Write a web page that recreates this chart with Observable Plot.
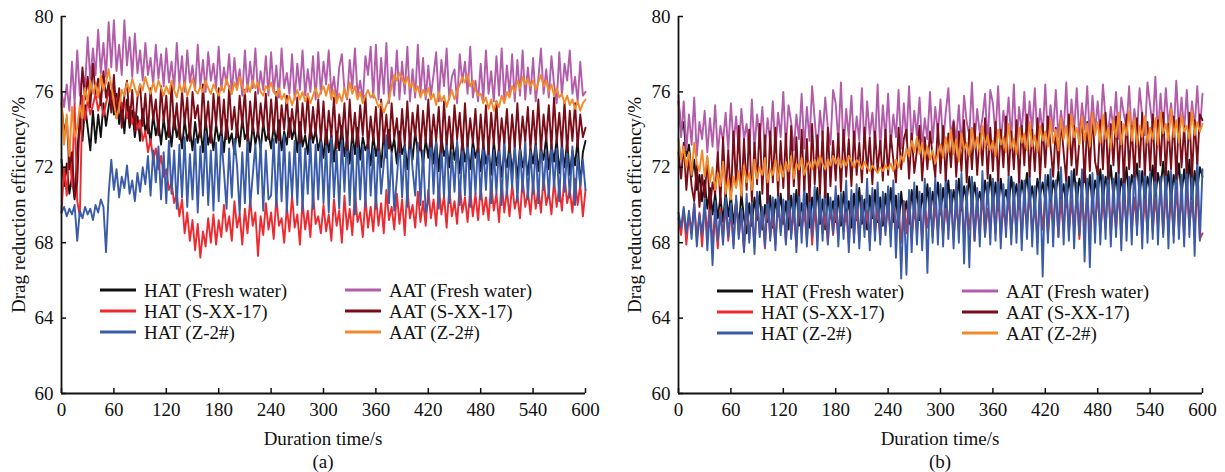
<!DOCTYPE html>
<html>
<head>
<meta charset="utf-8">
<script src="https://cdn.jsdelivr.net/npm/d3@7"></script>
<script src="https://cdn.jsdelivr.net/npm/@observablehq/plot@0.6"></script>
<style>
  body { margin: 0; background: #fff; }
  #wrap { position: relative; width: 1225px; height: 472px; font-family: "Liberation Serif", "Times New Roman", serif; color: #111; overflow: hidden; }
  .panel { position: absolute; top: 0; }
  .t { position: absolute; white-space: nowrap; font-size: 19px; line-height: 1; transform: translate(-50%, -50%); }
  .ty { position: absolute; white-space: nowrap; font-size: 19px; line-height: 1; transform: translate(-50%, -50%) rotate(-90deg); }
  .lg { position: absolute; white-space: nowrap; font-size: 19px; line-height: 1; display: flex; align-items: center; transform: translateY(-50%); }
  .sw { display: inline-block; width: 36px; height: 3px; margin-right: 8px; }
</style>
</head>
<body>
<div id="wrap"></div>
<script>
// ---------------- data ----------------
const duration = 600; // s
const xTicks = [0, 60, 120, 180, 240, 300, 360, 420, 480, 540, 600];
const yTicks = [60, 64, 68, 72, 76, 80];
const seriesNames = ["HAT (Fresh water)", "HAT (S-XX-17)", "HAT (Z-2#)", "AAT (Fresh water)", "AAT (S-XX-17)", "AAT (Z-2#)"];
const seriesColors = ["#111111", "#ec2a30", "#3a5ca8", "#b35ca9", "#7a0c18", "#f28a2c"];
const panelLabels = ["(a)", "(b)"];
const xTitle = "Duration time/s";
const yTitle = "Drag reduction efficiency/%";

// Panel (a): values sampled every 3 s, t = 0 ... 600
const a_HAT_fresh = [
72.4,71.0,72.2,70.6,71.5,70.3,72.8,74.6,73.4,75.3,74.1,72.9,75.0,73.3,74.8,73.6,75.4,74.2,75.2,76.1,
74.8,75.9,74.3,75.4,73.8,75.6,74.1,75.0,73.6,74.7,73.4,75.1,73.9,74.5,73.3,74.8,73.7,74.4,73.2,74.6,
73.5,74.3,73.1,74.7,73.6,74.2,73.0,74.5,73.4,74.0,72.9,74.4,73.3,74.1,72.8,74.6,73.2,73.9,72.9,74.3,
73.4,74.0,72.8,74.5,73.3,73.8,72.7,74.2,73.1,74.6,73.5,73.9,72.8,74.3,73.2,74.0,72.9,74.4,73.4,73.8,
73.0,74.2,73.3,74.5,72.9,73.9,73.2,74.6,73.5,74.1,72.8,74.4,73.1,73.7,72.7,74.2,73.3,74.0,72.9,73.6,
72.5,74.0,72.8,73.7,72.3,73.9,72.9,74.2,72.6,73.5,72.2,73.8,72.7,74.1,72.4,73.6,72.9,73.3,72.1,73.7,
72.6,73.4,72.0,73.8,72.5,74.0,72.8,73.5,72.2,73.9,72.7,73.2,71.9,73.6,72.4,73.9,72.7,73.3,72.1,73.5,
72.5,73.8,72.2,73.4,71.8,73.6,72.6,73.1,72.0,73.7,72.4,73.2,71.7,73.5,72.3,73.0,71.9,73.4,72.5,73.1,
71.8,73.3,72.2,72.9,71.6,73.4,72.1,73.0,71.5,72.8,72.0,73.2,71.7,72.9,71.4,73.1,72.0,72.7,71.6,73.0,
72.2,73.3,71.8,73.0,72.4,73.6,71.9,73.2,72.3,73.5,71.7,73.1,72.0,73.4,71.6,72.9,72.1,73.5,71.0,72.8,
73.4];
const a_HAT_sxx = [
69.6,72.0,70.5,73.2,71.0,75.4,70.2,69.4,75.8,74.5,75.6,74.8,75.3,75.9,75.0,75.6,74.7,75.4,76.0,75.5,
76.2,75.4,76.0,75.1,75.6,74.6,75.2,74.3,74.9,74.0,74.5,73.4,73.9,72.8,73.5,72.4,73.0,71.9,72.6,71.5,
71.9,70.8,71.2,70.1,70.6,69.4,70.3,68.5,69.6,68.1,69.2,67.6,69.0,67.2,68.6,67.8,69.3,68.0,69.5,67.9,
69.2,68.3,70.0,68.6,69.4,68.1,70.2,68.8,69.5,67.9,69.8,68.5,70.3,68.9,69.6,67.3,69.4,68.4,70.1,68.7,
69.6,68.2,70.4,68.9,69.3,68.0,69.9,68.6,70.5,68.8,69.5,67.9,70.2,68.7,69.7,68.3,70.6,69.0,69.4,68.5,
70.0,68.6,69.5,68.1,70.3,68.9,69.7,68.0,70.5,68.7,69.8,68.4,70.7,69.1,69.6,68.3,70.4,68.8,69.9,68.6,
70.5,68.9,70.1,68.5,70.8,69.2,69.9,68.7,70.6,69.0,70.3,68.4,70.9,69.3,70.0,68.8,70.7,69.1,70.2,68.9,
70.8,69.3,70.3,68.9,71.0,69.5,70.5,68.8,70.9,69.4,70.2,69.0,71.1,69.6,70.4,69.1,70.8,69.4,70.6,69.2,
71.0,69.5,70.4,69.2,71.2,69.7,70.6,69.1,71.3,69.6,70.8,69.4,71.1,69.8,70.5,69.3,71.4,69.9,70.7,69.5,
71.2,69.8,70.9,69.6,71.5,70.0,70.7,69.5,71.3,69.9,71.0,69.7,71.6,70.1,70.8,69.6,71.4,70.0,71.1,69.4,
70.8];
const a_HAT_z2 = [
69.6,69.9,69.4,69.8,69.5,70.0,68.1,69.7,69.3,69.9,69.5,69.8,69.2,70.0,69.6,70.3,69.9,67.5,70.6,72.4,
70.8,71.9,70.4,71.5,70.9,72.1,70.6,71.3,70.2,71.7,70.7,72.0,71.1,72.6,70.5,72.9,71.2,73.1,70.3,72.8,
70.1,73.4,70.6,72.9,69.8,73.2,70.4,73.6,69.9,72.7,70.3,73.5,69.6,73.1,70.5,73.8,70.0,72.9,69.7,73.3,
70.2,73.6,71.8,69.8,73.0,70.4,73.5,72.1,69.5,72.8,70.1,73.7,69.9,71.6,73.2,70.6,73.4,69.7,72.9,70.3,
70.5,73.5,69.9,73.3,70.2,73.7,69.6,72.8,70.4,73.4,70.0,73.8,69.7,73.0,70.6,73.5,69.8,73.2,70.3,73.6,
70.1,73.3,69.6,73.7,70.4,72.9,69.8,73.5,70.7,73.8,70.0,73.1,69.5,73.6,70.3,73.2,69.9,73.9,70.5,73.0,
69.8,73.4,70.6,72.2,73.7,70.1,72.8,69.7,71.4,73.5,70.4,73.1,69.9,73.8,71.9,70.5,73.3,70.0,72.9,69.6,
70.2,73.9,70.6,73.4,69.8,73.1,70.4,73.7,70.1,72.8,70.7,73.5,70.0,73.2,70.5,73.8,69.9,73.0,70.6,73.4,
70.3,73.1,70.8,73.6,70.1,72.9,70.6,73.3,70.0,73.7,70.5,72.8,70.9,73.4,70.2,73.0,70.7,73.5,70.3,72.9,
70.6,73.2,70.1,73.5,70.8,72.8,70.4,73.3,70.9,73.0,70.2,73.6,70.7,72.9,70.4,73.1,70.0,72.6,71.0,72.4,
70.8];
const a_AAT_fresh = [
76.0,75.2,76.4,75.0,77.6,75.4,78.2,75.8,77.1,76.3,78.9,76.6,78.3,76.9,79.3,77.0,78.6,76.8,79.7,77.3,
79.8,77.1,78.5,76.9,79.8,77.4,78.9,76.8,79.1,77.0,78.2,76.6,78.6,76.9,77.8,76.4,78.5,76.7,78.0,76.3,
78.3,76.5,77.6,76.2,78.6,76.4,77.9,76.0,78.2,76.5,77.4,76.1,78.5,76.3,77.7,76.0,78.1,76.6,77.5,76.2,
78.4,76.1,77.3,76.4,78.0,75.9,77.8,76.3,77.2,75.8,78.2,76.0,77.6,76.2,78.3,75.9,77.1,76.1,77.9,75.8,
78.1,76.0,77.4,75.7,78.3,76.2,77.0,75.9,78.0,75.6,77.5,76.1,78.2,75.8,77.2,76.0,77.9,75.6,78.1,75.9,
77.6,76.4,78.2,75.9,76.8,75.5,77.3,78.0,76.1,75.6,77.7,76.2,78.3,75.8,76.6,75.5,77.9,76.9,78.4,75.7,
78.5,75.6,77.8,75.9,78.6,75.4,77.3,75.8,78.2,75.6,77.6,75.9,78.4,75.5,77.2,75.7,78.5,75.9,77.8,75.6,
77.4,75.8,76.9,78.1,75.5,77.7,76.3,78.3,75.6,76.8,77.2,75.4,78.0,76.5,77.6,75.9,78.4,75.7,76.6,75.5,
77.5,75.6,78.2,75.9,77.1,75.5,77.9,75.8,78.3,75.6,77.4,75.9,78.0,75.5,77.7,75.8,78.2,75.6,77.3,75.9,
77.8,75.5,76.7,78.3,75.9,77.2,75.7,77.9,76.4,75.4,78.1,75.8,77.5,76.6,78.2,75.9,76.8,75.5,77.6,75.8,
76.0];
const a_AAT_sxx = [
75.4,73.8,74.6,71.9,72.8,70.4,71.2,74.8,77.3,75.6,76.8,75.2,77.5,75.9,76.7,75.3,77.1,75.7,76.5,74.9,
76.9,74.6,76.2,74.1,75.8,76.6,74.3,76.1,73.9,75.7,76.4,74.2,75.9,73.8,76.2,74.5,75.6,73.7,76.3,74.4,
75.8,73.6,76.5,74.0,75.4,73.5,76.1,74.3,75.7,73.4,76.0,74.6,75.3,73.6,76.4,74.1,75.5,73.3,75.9,74.2,
76.2,73.8,75.6,73.5,76.3,74.0,75.2,73.6,75.8,74.2,76.1,73.4,75.5,73.9,76.0,73.7,75.4,74.1,75.9,73.5,
75.6,73.8,76.0,73.4,75.3,74.0,75.8,73.6,75.1,73.9,75.7,73.3,75.4,73.8,75.9,73.5,75.2,73.7,75.6,73.4,
75.5,73.2,75.0,73.6,75.7,73.0,74.8,73.5,75.4,72.9,75.6,73.4,74.9,73.1,75.3,73.7,75.8,73.0,74.7,73.4,
75.2,72.9,75.6,73.3,74.8,73.0,75.4,73.5,74.6,72.8,75.1,73.2,75.5,73.0,74.9,73.6,75.3,72.9,75.0,73.3,
75.6,73.1,74.8,73.4,75.2,72.8,75.5,73.2,74.7,73.0,75.3,73.5,74.9,72.9,75.4,73.1,74.6,73.3,75.1,72.8,
74.8,73.0,75.3,72.7,74.9,73.2,75.5,72.9,74.6,73.3,75.1,72.8,74.8,73.1,75.4,73.0,74.7,73.4,75.2,72.9,
75.0,73.2,75.6,72.9,74.8,73.4,75.3,73.0,75.7,73.3,74.9,73.1,75.5,72.8,75.0,73.4,75.4,73.1,74.8,73.6,
74.1];
const a_AAT_z2 = [
75.6,73.2,74.8,72.6,75.2,73.6,74.1,75.3,74.6,76.2,75.5,76.6,75.9,76.4,75.7,76.9,76.1,76.5,77.2,76.3,
75.4,74.6,75.2,76.1,75.8,76.5,76.0,76.7,76.2,75.8,76.4,76.1,76.8,76.3,75.9,76.5,76.0,76.6,76.2,75.8,
76.3,75.9,76.6,76.1,75.7,76.4,76.0,76.5,75.8,76.2,76.7,76.1,75.9,76.3,76.0,76.6,76.2,75.9,76.4,76.1,
75.8,76.3,76.0,76.7,76.2,75.9,76.5,76.1,76.8,76.3,75.9,76.4,76.0,76.6,76.2,76.5,76.0,75.8,76.3,76.1,
76.5,76.0,75.8,76.2,75.6,75.9,75.4,75.8,75.3,75.7,76.1,75.6,76.0,75.5,75.9,75.4,75.8,76.2,75.7,76.0,
76.3,75.8,76.4,75.6,76.1,75.4,75.9,75.5,76.2,75.7,76.5,75.9,76.3,75.6,76.0,75.4,75.8,76.1,75.7,75.9,
75.6,75.2,75.4,74.9,75.3,75.6,76.3,76.9,76.6,77.0,76.7,76.4,76.8,76.2,76.5,76.0,76.3,75.7,76.1,75.8,
76.2,75.6,75.9,75.3,76.0,75.5,75.8,75.2,75.7,76.1,75.6,76.0,76.4,76.8,76.5,76.9,76.3,76.6,76.1,75.8,
75.9,75.4,75.7,75.1,75.6,75.0,75.5,75.2,75.8,75.4,76.0,75.7,76.3,76.0,76.6,76.2,76.8,76.4,76.7,76.3,
76.6,76.1,76.5,76.9,76.3,76.6,76.0,76.4,75.8,76.2,75.7,75.9,75.4,75.8,75.3,75.6,75.1,75.5,75.0,75.4,
75.6];

// Panel (b)
const b_HAT_fresh = [
75.5,73.9,74.4,72.6,73.2,71.5,72.4,70.8,71.6,70.2,71.3,69.8,70.9,69.5,70.6,69.3,70.4,69.1,70.7,69.4,
70.5,69.0,70.2,68.8,70.6,69.3,68.5,70.1,68.9,70.4,69.2,70.7,68.7,70.0,69.1,70.5,68.8,70.3,69.4,70.6,
69.0,70.2,68.7,70.5,69.3,70.8,68.9,70.1,69.2,70.6,68.8,70.4,69.5,70.9,69.0,70.3,68.7,70.6,69.3,70.2,
69.1,70.5,68.9,70.7,69.4,70.2,68.8,70.6,69.2,70.9,69.0,70.3,68.7,70.5,69.3,70.8,69.1,70.4,68.9,70.6,
69.4,70.9,69.1,70.5,68.8,70.7,69.3,70.2,69.0,70.8,69.5,71.0,69.2,70.6,69.6,71.1,69.3,70.7,69.8,71.2,
69.5,70.9,69.8,71.3,69.6,70.8,70.0,71.4,69.7,71.0,70.2,71.5,69.9,71.2,70.1,70.7,69.8,71.3,70.3,71.6,
70.0,71.2,69.7,71.4,70.2,70.8,69.9,71.5,70.3,71.1,69.8,71.3,70.4,71.7,70.1,71.0,69.9,71.4,70.5,71.2,
70.2,71.6,70.0,71.3,70.6,71.8,70.3,71.1,69.9,71.5,70.4,71.9,70.1,71.4,70.7,72.0,70.3,71.6,70.0,71.3,
70.6,71.9,70.2,71.5,70.8,72.1,70.4,71.7,70.1,71.4,70.7,72.0,70.3,71.6,70.9,72.2,70.5,71.8,70.2,71.5,
70.8,72.1,70.4,71.7,70.9,72.3,70.6,71.8,70.2,71.6,70.9,72.2,70.5,71.9,70.7,72.4,70.3,71.8,70.8,72.0,
71.5];
const b_HAT_sxx = [
69.3,68.4,69.8,67.9,69.5,68.6,70.1,68.2,69.6,67.8,69.9,68.5,70.2,68.0,69.4,67.7,69.8,68.3,70.0,68.1,
69.7,67.9,70.3,68.4,69.5,67.6,70.0,68.2,69.8,67.8,70.4,68.5,69.6,67.7,70.1,68.3,69.4,67.9,70.2,68.6,
69.9,68.0,70.3,68.4,69.6,67.8,70.1,68.6,69.7,68.1,70.4,67.9,69.8,68.3,70.2,68.5,69.5,68.0,70.0,68.4,
69.8,68.2,70.3,68.6,69.6,67.9,70.5,68.4,69.9,68.1,70.2,68.7,69.7,68.0,70.4,68.5,69.8,68.2,70.1,68.6,
69.9,68.3,70.5,68.7,69.6,68.0,70.2,68.5,70.6,68.2,69.8,68.6,70.3,68.1,69.9,68.8,70.4,68.3,70.0,68.6,
70.2,68.4,69.8,68.8,70.5,68.2,70.0,68.6,70.7,68.3,69.9,68.7,70.4,68.1,70.1,68.5,70.6,68.4,69.8,68.9,
70.3,68.5,70.7,68.2,69.9,68.8,70.5,68.4,70.1,68.6,70.8,68.3,70.2,68.9,70.6,68.5,70.0,68.2,70.4,68.7,
70.5,68.4,70.1,68.9,70.7,68.3,70.3,68.6,70.9,68.5,70.2,68.8,70.6,68.2,70.4,68.7,70.8,68.4,70.1,68.9,
70.6,68.5,70.3,68.8,70.9,68.4,70.2,68.7,70.7,68.3,70.5,68.9,71.0,68.6,70.4,68.8,70.8,68.5,70.3,68.7,
70.9,68.6,70.4,68.9,71.1,68.5,70.6,68.8,70.3,68.4,71.0,68.7,70.5,68.3,70.8,68.9,70.2,68.6,70.9,68.2,
68.5];
const b_HAT_z2 = [
69.6,68.8,69.9,68.5,69.7,68.2,70.1,67.8,69.5,68.4,70.3,67.6,69.8,66.8,70.2,68.1,69.6,67.9,70.4,68.3,
70.1,67.7,70.5,68.2,69.8,67.5,70.6,68.0,70.2,67.4,70.7,68.3,69.9,67.8,71.0,68.1,70.4,67.6,70.8,68.4,
70.3,67.9,71.1,68.2,70.6,67.5,70.9,68.0,71.2,67.8,70.5,68.3,71.0,67.6,70.7,68.1,71.3,67.9,70.4,68.5,
71.0,67.8,70.6,68.2,71.3,67.5,70.8,68.0,71.1,67.7,70.5,68.3,71.4,67.6,70.9,68.1,71.2,67.9,70.7,68.4,
71.0,67.8,71.3,67.2,70.6,66.1,70.2,66.3,70.8,67.5,71.2,67.9,70.7,67.6,71.4,66.4,70.9,68.0,71.5,67.9,
71.1,67.8,71.6,68.2,70.8,67.7,71.3,68.0,71.7,66.9,71.0,66.7,71.5,68.1,70.9,67.8,71.8,68.3,71.2,67.9,
71.4,68.1,71.9,67.7,71.1,68.3,71.6,67.9,71.2,68.0,71.8,67.6,71.3,68.2,71.7,67.8,71.0,67.4,71.5,66.2,
71.6,68.0,71.9,67.8,71.3,68.3,72.0,67.9,71.5,68.1,71.8,67.7,71.2,68.4,71.9,67.0,71.4,66.7,71.7,68.0,
72.0,67.9,71.6,68.2,72.3,67.8,71.4,68.3,71.9,67.6,72.1,68.1,71.5,67.9,72.4,68.4,71.8,67.7,72.2,68.0,
71.7,68.2,72.3,67.9,71.5,68.3,72.1,67.7,71.8,68.0,72.5,68.2,71.6,67.8,72.4,68.3,72.0,67.3,72.6,68.1,
71.9];
const b_AAT_fresh = [
75.8,73.6,75.5,72.9,74.8,73.2,75.7,72.6,74.4,73.5,75.0,72.8,74.6,73.1,75.3,72.7,74.2,73.4,74.9,72.9,
75.4,73.2,74.7,72.8,75.1,73.5,74.3,72.7,75.6,73.0,74.8,73.4,75.2,72.9,74.6,73.3,75.5,72.8,74.9,73.6,
76.0,73.1,75.3,74.4,72.9,74.8,73.5,75.9,73.0,75.2,73.4,76.3,74.5,72.8,75.0,73.6,75.7,74.1,73.2,76.1,
75.4,73.3,76.5,72.9,75.1,73.6,75.8,73.1,74.7,73.4,76.2,73.0,75.5,73.7,74.9,73.2,76.4,72.9,75.3,73.5,
75.9,73.1,74.8,73.6,76.1,73.0,75.4,73.4,76.3,73.2,75.0,73.7,75.7,73.1,74.6,73.5,76.0,73.3,75.2,73.8,
75.6,73.2,74.9,76.2,73.6,74.5,73.4,75.3,73.0,75.8,74.4,73.7,76.5,73.3,75.1,73.8,74.6,75.9,73.2,76.1,
75.4,73.7,76.3,73.2,75.0,73.9,75.7,73.4,76.4,73.1,75.2,73.8,76.0,73.3,75.5,73.9,76.2,73.5,75.1,73.7,
76.4,73.4,75.3,73.9,76.1,73.6,75.0,73.8,76.5,73.3,75.6,73.9,76.2,73.5,75.4,74.0,76.3,73.6,75.8,73.9,
75.5,73.7,76.4,74.6,73.8,75.2,74.0,76.0,73.5,75.7,74.8,74.1,76.3,73.6,75.1,73.9,76.2,74.7,73.7,76.5,
75.3,74.1,76.8,73.7,75.9,73.9,76.2,74.2,75.4,73.8,76.6,74.0,75.7,73.9,76.1,73.6,75.5,74.1,76.3,73.9,
75.9];
const b_AAT_sxx = [
72.8,71.4,73.3,70.8,72.6,71.0,70.2,72.1,69.9,71.6,70.4,72.5,69.8,71.2,70.6,72.8,70.1,73.6,70.5,72.9,
70.3,73.9,71.0,74.2,70.4,73.5,70.8,74.0,70.2,73.3,71.1,74.3,70.6,73.7,70.1,73.9,71.2,74.1,70.5,73.4,
70.9,73.8,70.3,74.2,71.0,73.6,70.5,74.0,70.8,73.5,70.2,74.3,71.1,73.7,70.6,73.9,70.4,74.1,71.0,73.4,
71.3,73.8,70.7,74.0,71.5,73.5,71.0,73.9,71.6,73.3,71.2,74.1,71.7,73.6,71.1,73.9,71.8,73.4,71.3,74.0,
71.6,73.7,72.4,71.2,74.1,71.9,73.5,74.0,71.4,73.8,71.7,72.9,74.2,71.3,73.6,71.9,73.9,72.6,71.5,74.3,
71.7,74.2,71.3,73.8,72.0,74.4,71.5,73.9,71.8,74.5,71.2,74.0,71.9,74.3,71.6,73.8,72.1,74.6,71.4,74.1,
71.8,74.4,71.3,74.0,72.0,74.7,71.6,73.9,71.9,74.5,71.2,74.2,72.1,74.8,71.5,74.0,71.8,74.6,71.4,74.3,
72.0,74.7,73.1,71.5,74.1,71.9,74.5,72.8,71.3,74.8,72.1,74.2,71.6,73.4,74.6,71.2,74.4,71.8,74.9,72.3,
71.6,74.5,71.9,74.9,71.4,74.3,72.1,74.7,71.7,74.4,71.2,74.8,71.9,74.2,71.5,74.6,72.0,74.9,71.6,74.4,
71.8,74.8,71.3,74.5,72.1,74.9,71.6,74.3,71.9,74.7,71.4,74.6,72.0,74.2,71.7,74.9,71.5,74.5,72.2,74.8,
74.5];
const b_AAT_z2 = [
73.5,72.4,73.1,72.0,72.8,71.6,73.3,72.2,71.8,72.9,71.5,72.6,71.2,72.0,70.8,71.7,71.0,72.3,70.6,71.4,
70.3,71.5,70.9,71.8,70.5,72.1,71.2,71.7,70.8,72.4,71.4,72.0,71.6,72.5,71.2,71.9,71.6,72.4,71.3,72.1,
71.5,72.3,71.8,72.6,71.4,72.2,71.9,72.5,71.6,72.1,72.3,71.9,72.4,72.0,72.6,72.2,71.9,72.4,72.1,72.6,
72.2,72.5,72.0,72.4,72.1,72.6,72.3,72.0,72.4,72.2,71.9,72.3,72.0,71.8,72.1,71.9,71.7,72.0,71.8,72.1,
71.9,72.2,71.8,72.4,72.0,72.6,72.3,73.0,72.6,73.4,72.8,73.6,72.7,73.3,72.5,73.1,72.4,72.9,72.2,72.7,
73.2,72.5,73.6,72.8,74.0,72.7,73.5,72.3,73.8,72.9,73.3,72.6,74.1,73.0,73.6,72.8,74.2,73.1,73.7,72.9,
73.4,72.6,74.0,73.2,73.6,72.8,74.3,73.0,73.5,72.7,74.1,73.3,73.8,72.9,74.4,73.1,73.7,72.8,74.2,73.4,
73.9,73.1,74.5,73.3,74.0,72.9,74.6,73.5,74.2,73.0,74.8,73.6,74.1,73.2,74.7,73.4,74.3,73.1,74.9,73.7,
74.4,73.3,74.8,73.5,74.1,73.0,74.5,73.6,74.9,73.2,74.3,73.7,75.0,73.4,74.6,73.2,74.2,73.6,74.7,73.3,
74.1,73.5,74.6,73.2,74.9,73.8,74.3,73.4,75.1,73.6,74.5,73.3,74.8,73.9,74.2,73.5,75.0,73.7,74.4,73.9,
74.3];

const panelA = [a_HAT_fresh, a_HAT_sxx, a_HAT_z2, a_AAT_fresh, a_AAT_sxx, a_AAT_z2];
const panelB = [b_HAT_fresh, b_HAT_sxx, b_HAT_z2, b_AAT_fresh, b_AAT_sxx, b_AAT_z2];

// ---------------- drawing ----------------
const FONT = "Liberation Serif, Times New Roman, serif";
function makePanel(seriesList, opts) {
  const marks = seriesList.map((vals, k) =>
    Plot.line(vals, {
      x: (d, i) => i * duration / (vals.length - 1),
      y: d => d,
      stroke: seriesColors[k],
      strokeWidth: 1.9
    })
  );
  return Plot.plot({
    width: opts.width, height: 472,
    marginTop: 16, marginBottom: 79, marginLeft: opts.ml, marginRight: opts.mr,
    x: { domain: [0, duration] },
    y: { domain: [60, 80] },
    style: { fontFamily: FONT, fontSize: "19px", color: "#111", background: "transparent", overflow: "visible" },
    marks: [
      ...marks,
      Plot.ruleY([60], { stroke: "#111", strokeWidth: 1.8 }),
      Plot.ruleX([0], { stroke: "#111", strokeWidth: 1.8 }),
      Plot.axisX(xTicks, { tickSize: -5, strokeWidth: 1.5, tickFormat: () => "", label: null }),
      Plot.axisX(xTicks, { tickSize: 0, tickPadding: 9, fontSize: 19, fill: "#111", label: null }),
      Plot.axisY(yTicks, { tickSize: -5, strokeWidth: 1.5, tickFormat: () => "", label: null }),
      Plot.axisY(yTicks, { tickSize: 0, tickPadding: 8, fontSize: 19, fill: "#111", label: null })
    ]
  });
}

const wrap = document.getElementById("wrap");
const panels = [
  { data: panelA, left: 0, width: 612, ml: 61, mr: 27, cx: 323, yx: 18,
    legL: { line: 100, rows: [290, 311, 332] }, legR: { line: 345 } },
  { data: panelB, left: 612, width: 613, ml: 66, mr: 23, cx: 940, yx: 634,
    legL: { line: 717, rows: [291, 312, 333] }, legR: { line: 962 } }
];

panels.forEach((p, pi) => {
  const svg = makePanel(p.data, p);
  const holder = document.createElement("div");
  holder.className = "panel";
  holder.style.left = p.left + "px";
  holder.appendChild(svg);
  wrap.appendChild(holder);

  const xt = document.createElement("div");
  xt.className = "t"; xt.textContent = xTitle;
  xt.style.left = p.cx + "px"; xt.style.top = "438px";
  wrap.appendChild(xt);

  const pl = document.createElement("div");
  pl.className = "t"; pl.textContent = panelLabels[pi];
  pl.style.left = p.cx + "px"; pl.style.top = "461px";
  wrap.appendChild(pl);

  const yt = document.createElement("div");
  yt.className = "ty"; yt.textContent = yTitle;
  yt.style.left = p.yx + "px"; yt.style.top = "205px";
  wrap.appendChild(yt);

  seriesNames.forEach((name, k) => {
    const col = k < 3 ? p.legL.line : p.legR.line;
    const row = p.legL.rows[k % 3];
    const el = document.createElement("div");
    el.className = "lg";
    el.style.left = col + "px"; el.style.top = row + "px";
    const sw = document.createElement("span");
    sw.className = "sw"; sw.style.background = seriesColors[k];
    const tx = document.createElement("span");
    tx.textContent = name;
    el.appendChild(sw); el.appendChild(tx);
    wrap.appendChild(el);
  });
});
</script>
</body>
</html>
